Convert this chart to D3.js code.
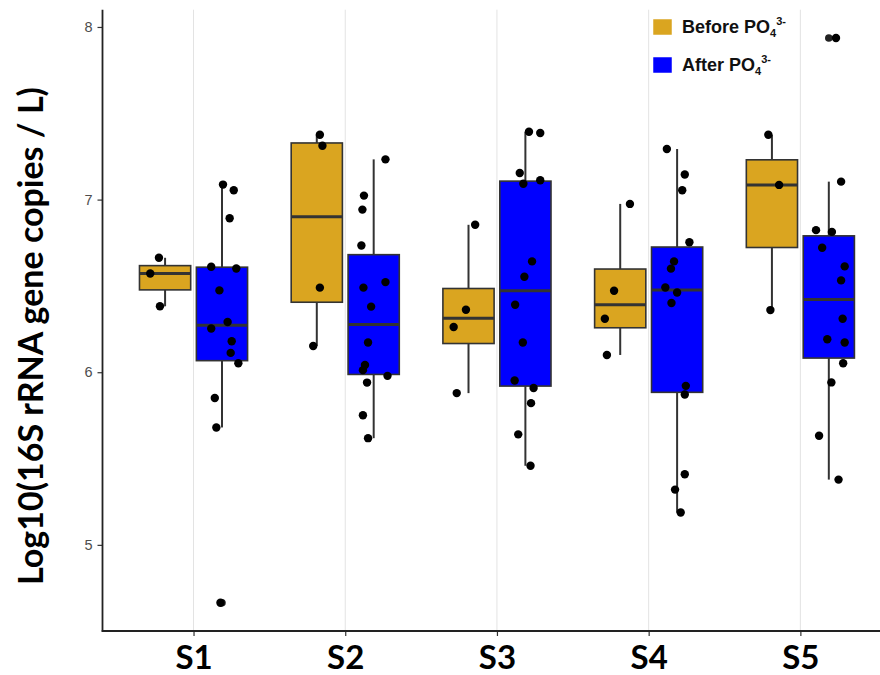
<!DOCTYPE html>
<html>
<head>
<meta charset="utf-8">
<script src="https://cdn.jsdelivr.net/npm/d3@7"></script>
<style>
body { margin: 0; background: #fff; }
svg { display: block; }
</style>
</head>
<body>
<div id="chart"></div>
<script>
// data
var sites = ['S1','S2','S3','S4','S5']
var groups = ['Before','After']
var colors = ['#DAA520','#0000FF']
var yTicks = [5,6,7,8]

var beforeVals = [
	[6.663,6.572,6.382],
	[7.376,7.312,6.490,6.152],
	[6.854,6.362,6.262,5.879],
	[6.975,6.472,6.310,6.100],
	[7.376,7.085,6.360]
]
var beforeJit = [
	[-0.12,-0.29,-0.10],
	[0.06,0.11,0.06,-0.07],
	[0.13,-0.05,-0.29,-0.23],
	[0.19,-0.12,-0.30,-0.26],
	[-0.07,0.14,-0.03]
]
var afterVals = [
	[7.087,7.054,6.892,6.611,6.601,6.474,6.291,6.253,6.179,6.112,6.052,5.851,5.680,4.665],
	[7.233,7.023,6.942,6.734,6.522,6.490,6.380,6.172,6.042,6.012,5.979,5.940,5.751,5.618],
	[7.393,7.386,7.154,7.112,7.092,6.642,6.553,6.391,6.172,5.952,5.909,5.821,5.640,5.458],
	[7.293,7.145,7.054,6.753,6.642,6.600,6.491,6.462,6.401,5.921,5.871,5.409,5.320,5.187],
	[7.936,7.104,6.823,6.813,6.721,6.613,6.532,6.310,6.191,6.172,6.052,5.941,5.632,5.378]
]
var afterJit = [
	[0.02,0.23,0.15,-0.21,0.28,-0.05,0.11,-0.21,0.19,0.17,0.32,-0.14,-0.11,-0.03],
	[0.23,-0.19,-0.22,-0.24,0.23,-0.20,-0.05,-0.11,-0.17,-0.21,0.27,-0.13,-0.21,-0.11],
	[0.07,0.29,-0.11,0.29,-0.04,0.13,-0.02,-0.20,-0.05,-0.21,0.16,0.11,-0.14,0.10],
	[-0.20,0.15,0.10,0.24,-0.06,-0.12,-0.23,0.00,-0.11,0.17,0.15,0.15,-0.04,0.07],
	[0.14,0.24,-0.25,0.06,-0.13,0.31,0.24,0.27,-0.03,0.31,0.28,0.05,-0.19,0.19]
]

var W = 880, H = 675
var pLeft = 102.5, pRight = 891.4, pTop = 9.7, pBottom = 631

var svg = d3.select('#chart').append('svg')
	.attr('width', W)
	.attr('height', H)

var x = d3.scalePoint().domain(sites).range([pLeft, pRight]).padding(0.6)
var step = x.step()
var xg = d3.scaleBand().domain(groups).range([-0.375*step, 0.375*step])
var boxW = xg.bandwidth()*0.9
var y = d3.scaleLinear().domain([4.501, 8.100]).range([pBottom, pTop])

// grid
svg.append('g').selectAll('line').data(sites).join('line')
	.attr('x1', d=>x(d)).attr('x2', d=>x(d))
	.attr('y1', pTop).attr('y2', pBottom)
	.style('stroke', '#e3e3e3').style('stroke-width', 1)

function stats(v){
	var s = v.slice().sort(d3.ascending)
	var q1 = d3.quantile(s,0.25), med = d3.quantile(s,0.5), q3 = d3.quantile(s,0.75)
	var iqr = q3 - q1
	var lo = d3.min(s.filter(d=>d >= q1 - 1.5*iqr))
	var hi = d3.max(s.filter(d=>d <= q3 + 1.5*iqr))
	var out = s.filter(d=>d < lo || d > hi)
	return {q1:q1, med:med, q3:q3, lo:lo, hi:hi, out:out}
}

var boxes = []
sites.forEach(function(site,i){
	[beforeVals[i], afterVals[i]].forEach(function(vals,g){
		boxes.push({site:site, g:g, vals:vals,
			jit: g==0 ? beforeJit[i] : afterJit[i],
			cx: x(site) + xg(groups[g]) + xg.bandwidth()/2,
			st: stats(vals)})
	})
})

var gb = svg.append('g')
boxes.forEach(function(b){
	var g = gb.append('g')
	var st = b.st
	g.append('line').attr('x1', b.cx).attr('x2', b.cx)
		.attr('y1', y(st.hi)).attr('y2', y(st.q3))
		.style('stroke', '#333').style('stroke-width', 2)
	g.append('line').attr('x1', b.cx).attr('x2', b.cx)
		.attr('y1', y(st.q1)).attr('y2', y(st.lo))
		.style('stroke', '#333').style('stroke-width', 2)
	g.append('rect')
		.attr('x', b.cx - boxW/2).attr('width', boxW)
		.attr('y', y(st.q3)).attr('height', y(st.q1) - y(st.q3))
		.style('fill', colors[b.g]).style('stroke', '#333').style('stroke-width', 1.6)
	g.append('line').attr('x1', b.cx - boxW/2).attr('x2', b.cx + boxW/2)
		.attr('y1', y(st.med)).attr('y2', y(st.med))
		.style('stroke', '#333').style('stroke-width', 3)
	g.selectAll('circle').data(st.out).join('circle')
		.attr('cx', b.cx).attr('cy', d=>y(d)).attr('r', 3.8)
		.style('fill', '#222')
})

// jittered points
var gp = svg.append('g')
boxes.forEach(function(b){
	gp.selectAll(null).data(b.vals).join('circle')
		.attr('cx', (d,i)=>b.cx + b.jit[i]*boxW)
		.attr('cy', d=>y(d))
		.attr('r', 4.2)
		.style('fill', '#000')
})

// axes
var yAxis = svg.append('g').attr('transform', 'translate(' + pLeft + ',0)')
	.call(d3.axisLeft(y).tickValues(yTicks).tickSize(5).tickPadding(5).tickFormat(d3.format('d')))
yAxis.select('.domain').remove()
yAxis.selectAll('.tick line').style('stroke', '#333').style('stroke-width', 1.2)
yAxis.selectAll('.tick text').style('fill', '#4d4d4d').style('font-size', '14.5px')
	.style('font-family', 'Liberation Sans, Arial, sans-serif')

var xAxis = svg.append('g').attr('transform', 'translate(0,' + pBottom + ')')
	.call(d3.axisBottom(x).tickSize(5).tickPadding(10))
xAxis.select('.domain').remove()
xAxis.selectAll('.tick line').style('stroke', '#333').style('stroke-width', 1.2)
xAxis.selectAll('.tick text').style('fill', '#000').style('font-size', '33px')
	.style('font-weight', 'bold').style('font-family', 'Lato, sans-serif')

svg.append('line').attr('x1', pLeft).attr('x2', pLeft).attr('y1', pTop).attr('y2', pBottom + 0.8)
	.style('stroke', '#222').style('stroke-width', 1.8)
svg.append('line').attr('x1', pLeft - 0.8).attr('x2', W).attr('y1', pBottom).attr('y2', pBottom)
	.style('stroke', '#222').style('stroke-width', 1.8)

// y title
svg.append('text')
	.attr('transform', 'translate(43,336) rotate(-90)')
	.attr('text-anchor', 'middle')
	.style('font-family', 'Lato, sans-serif')
	.style('font-weight', 'bold')
	.style('font-size', '34px')
	.style('fill', '#000')
	.text('Log10(16S rRNA gene copies / L)')

// legend
var leg = svg.append('g').attr('transform', 'translate(653,19)')
groups.forEach(function(gname,i){
	var row = leg.append('g').attr('transform', 'translate(0,' + (i*38) + ')')
	row.append('rect').attr('width', 19).attr('height', 16)
		.style('fill', colors[i]).style('stroke', '#fff').style('stroke-width', 0.5)
	var t = row.append('text').attr('x', 29).attr('y', 14)
		.style('font-family', 'Liberation Sans, Arial, sans-serif')
		.style('font-weight', 'bold').style('font-size', '18px').style('fill', '#111')
	t.append('tspan').text(gname + ' PO')
	t.append('tspan').attr('dy', 4).style('font-size', '11px').text('4')
	t.append('tspan').attr('dy', -12).style('font-size', '11px').text('3-')
})
</script>
</body>
</html>
